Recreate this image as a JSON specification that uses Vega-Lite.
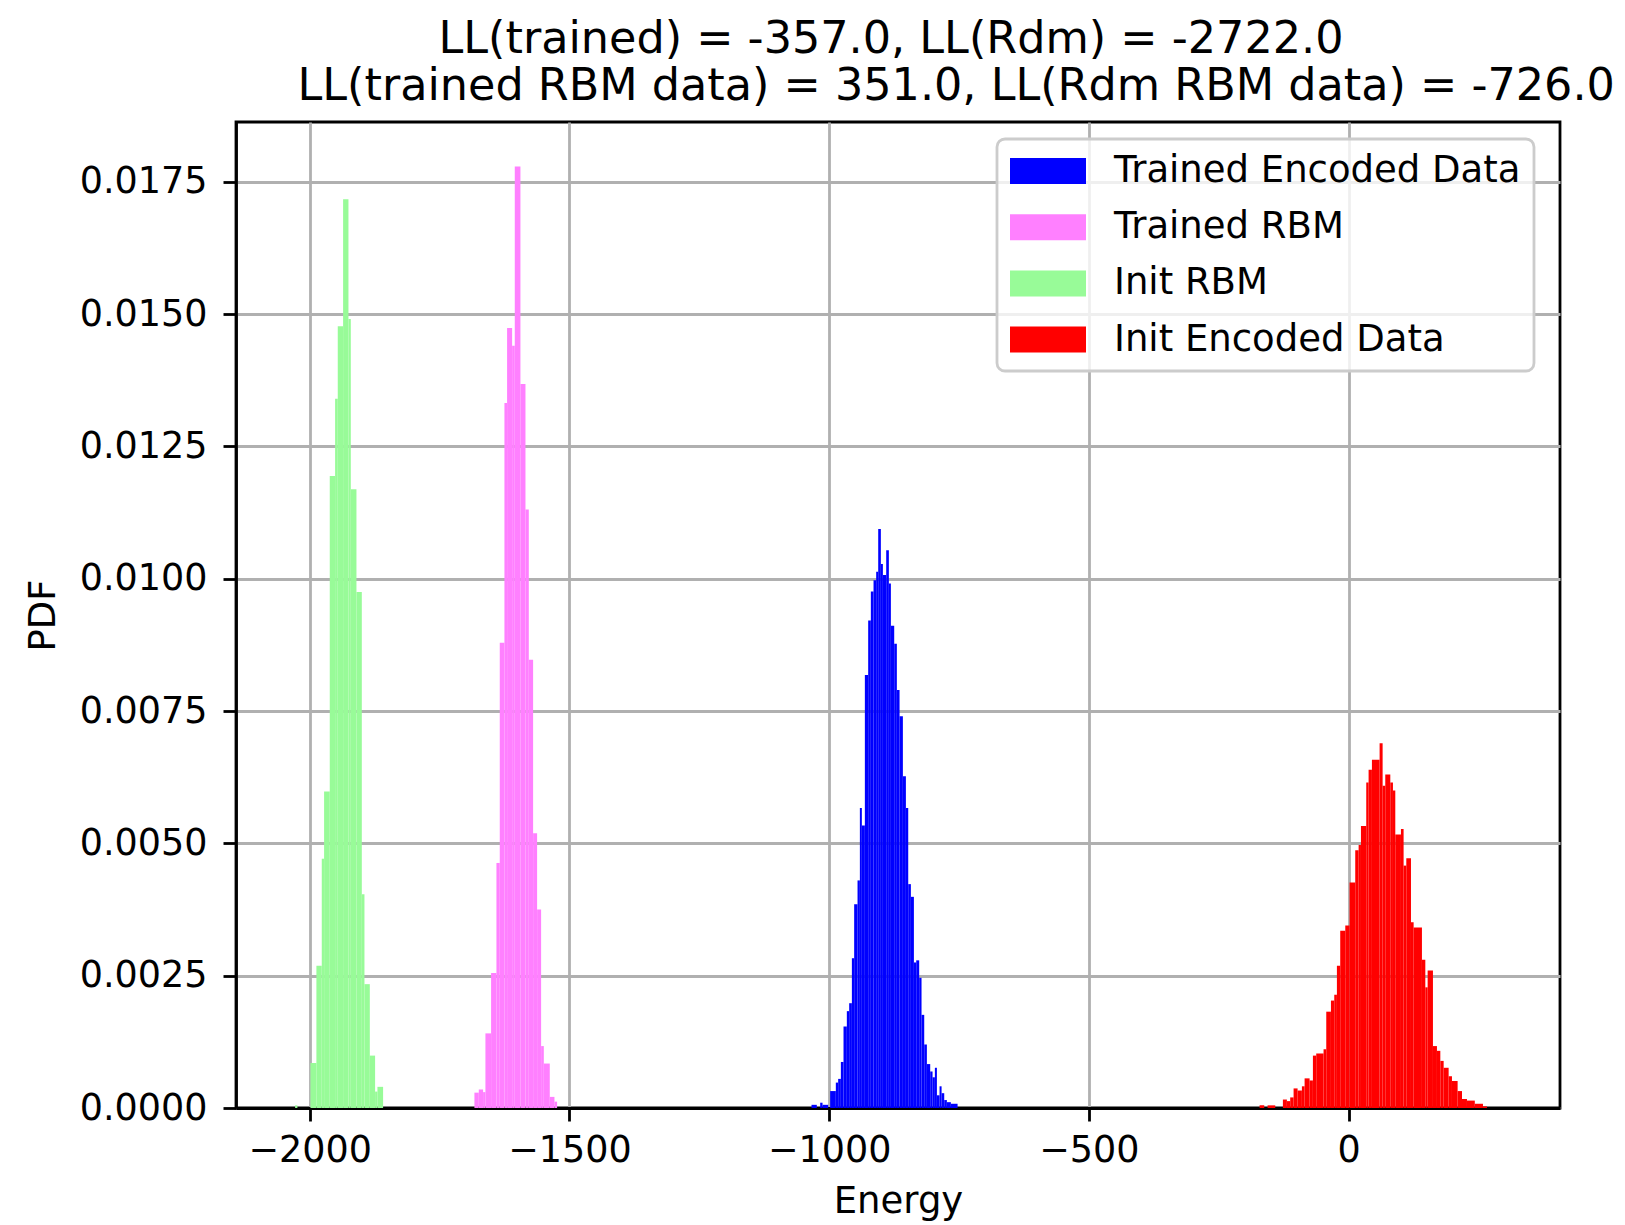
{
  "$schema": "https://vega.github.io/schema/vega-lite/v6.json",
  "autosize": {"type": "none"},
  "padding": {"left": 236, "top": 122, "right": 65, "bottom": 117},
  "width": 1324,
  "height": 986,
  "background": "white",
  "title": {
    "text": ["LL(trained) = -357.0, LL(Rdm) = -2722.0", "\u2800\u2800\u2800\u2800LL(trained RBM data) = 351.0, LL(Rdm RBM data) = -726.0"],
    "font": "DejaVu Sans",
    "fontSize": 44.5,
    "fontWeight": "normal",
    "color": "black",
    "anchor": "middle",
    "frame": "group",
    "offset": 12,
    "dx": -7,
    "lineHeight": 47.6
  },
  "data": {
    "values": [
      {"s": "Init RBM", "a": -2028.2, "b": -2023.8, "d": 0.00005},
      {"s": "Init RBM", "a": -1998.7, "b": -1987.2, "d": 0.00085},
      {"s": "Init RBM", "a": -1987.2, "b": -1976.9, "d": 0.00269},
      {"s": "Init RBM", "a": -1976.9, "b": -1972.4, "d": 0.00471},
      {"s": "Init RBM", "a": -1972.4, "b": -1961.5, "d": 0.00598},
      {"s": "Init RBM", "a": -1961.5, "b": -1951.2, "d": 0.01194},
      {"s": "Init RBM", "a": -1951.2, "b": -1946.1, "d": 0.0134},
      {"s": "Init RBM", "a": -1946.1, "b": -1935.8, "d": 0.01477},
      {"s": "Init RBM", "a": -1935.8, "b": -1925.5, "d": 0.01717},
      {"s": "Init RBM", "a": -1925.5, "b": -1921.0, "d": 0.01491},
      {"s": "Init RBM", "a": -1921.0, "b": -1910.1, "d": 0.01169},
      {"s": "Init RBM", "a": -1910.1, "b": -1899.8, "d": 0.00975},
      {"s": "Init RBM", "a": -1899.8, "b": -1894.7, "d": 0.00404},
      {"s": "Init RBM", "a": -1894.7, "b": -1884.4, "d": 0.00234},
      {"s": "Init RBM", "a": -1884.4, "b": -1874.2, "d": 0.00099},
      {"s": "Init RBM", "a": -1874.2, "b": -1869.7, "d": 0.00031},
      {"s": "Init RBM", "a": -1869.7, "b": -1858.8, "d": 0.0004},

      {"s": "Trained RBM", "a": -1683.0, "b": -1674.6, "d": 0.00029},
      {"s": "Trained RBM", "a": -1674.6, "b": -1666.3, "d": 0.00035},
      {"s": "Trained RBM", "a": -1666.3, "b": -1661.8, "d": 0.0003},
      {"s": "Trained RBM", "a": -1661.8, "b": -1650.9, "d": 0.00141},
      {"s": "Trained RBM", "a": -1650.9, "b": -1640.6, "d": 0.00255},
      {"s": "Trained RBM", "a": -1640.6, "b": -1634.2, "d": 0.00463},
      {"s": "Trained RBM", "a": -1634.2, "b": -1625.2, "d": 0.00879},
      {"s": "Trained RBM", "a": -1625.2, "b": -1620.1, "d": 0.01332},
      {"s": "Trained RBM", "a": -1620.1, "b": -1610.4, "d": 0.01474},
      {"s": "Trained RBM", "a": -1610.4, "b": -1605.3, "d": 0.0144},
      {"s": "Trained RBM", "a": -1605.3, "b": -1594.4, "d": 0.01779},
      {"s": "Trained RBM", "a": -1594.4, "b": -1584.7, "d": 0.01368},
      {"s": "Trained RBM", "a": -1584.7, "b": -1578.3, "d": 0.01131},
      {"s": "Trained RBM", "a": -1578.3, "b": -1570.0, "d": 0.00847},
      {"s": "Trained RBM", "a": -1570.0, "b": -1562.3, "d": 0.00519},
      {"s": "Trained RBM", "a": -1562.3, "b": -1554.6, "d": 0.00375},
      {"s": "Trained RBM", "a": -1554.6, "b": -1549.4, "d": 0.00117},
      {"s": "Trained RBM", "a": -1549.4, "b": -1537.9, "d": 0.00084},
      {"s": "Trained RBM", "a": -1537.9, "b": -1528.9, "d": 0.00021},
      {"s": "Trained RBM", "a": -1528.9, "b": -1523.8, "d": 0.00012},

      {"s": "Trained Encoded Data", "a": -1034.0, "b": -1023.8, "d": 0.00006},
      {"s": "Trained Encoded Data", "a": -1017.3, "b": -1012.8, "d": 0.0001},
      {"s": "Trained Encoded Data", "a": -1012.8, "b": -1001.9, "d": 0.00006},
      {"s": "Trained Encoded Data", "a": -998.1, "b": -987.2, "d": 0.00032},
      {"s": "Trained Encoded Data", "a": -987.2, "b": -982.7, "d": 0.00048},
      {"s": "Trained Encoded Data", "a": -982.7, "b": -977.5, "d": 0.00055},
      {"s": "Trained Encoded Data", "a": -977.5, "b": -972.4, "d": 0.00087},
      {"s": "Trained Encoded Data", "a": -972.4, "b": -966.0, "d": 0.00154},
      {"s": "Trained Encoded Data", "a": -966.0, "b": -961.5, "d": 0.00183},
      {"s": "Trained Encoded Data", "a": -961.5, "b": -956.3, "d": 0.00198},
      {"s": "Trained Encoded Data", "a": -956.3, "b": -951.9, "d": 0.00283},
      {"s": "Trained Encoded Data", "a": -951.9, "b": -945.4, "d": 0.00385},
      {"s": "Trained Encoded Data", "a": -945.4, "b": -940.9, "d": 0.0043},
      {"s": "Trained Encoded Data", "a": -940.9, "b": -937.1, "d": 0.00567},
      {"s": "Trained Encoded Data", "a": -937.1, "b": -931.3, "d": 0.00534},
      {"s": "Trained Encoded Data", "a": -931.3, "b": -924.9, "d": 0.00818},
      {"s": "Trained Encoded Data", "a": -924.9, "b": -919.8, "d": 0.00921},
      {"s": "Trained Encoded Data", "a": -919.8, "b": -914.6, "d": 0.00976},
      {"s": "Trained Encoded Data", "a": -914.6, "b": -909.5, "d": 0.00997},
      {"s": "Trained Encoded Data", "a": -909.5, "b": -905.6, "d": 0.01013},
      {"s": "Trained Encoded Data", "a": -905.6, "b": -900.5, "d": 0.01094},
      {"s": "Trained Encoded Data", "a": -900.5, "b": -896.6, "d": 0.01028},
      {"s": "Trained Encoded Data", "a": -896.6, "b": -890.2, "d": 0.01007},
      {"s": "Trained Encoded Data", "a": -890.2, "b": -885.1, "d": 0.01054},
      {"s": "Trained Encoded Data", "a": -885.1, "b": -881.2, "d": 0.00991},
      {"s": "Trained Encoded Data", "a": -881.2, "b": -874.8, "d": 0.00911},
      {"s": "Trained Encoded Data", "a": -874.8, "b": -869.7, "d": 0.00877},
      {"s": "Trained Encoded Data", "a": -869.7, "b": -864.5, "d": 0.0079},
      {"s": "Trained Encoded Data", "a": -864.5, "b": -858.1, "d": 0.0074},
      {"s": "Trained Encoded Data", "a": -858.1, "b": -852.3, "d": 0.00627},
      {"s": "Trained Encoded Data", "a": -852.3, "b": -847.8, "d": 0.00567},
      {"s": "Trained Encoded Data", "a": -847.8, "b": -842.7, "d": 0.00423},
      {"s": "Trained Encoded Data", "a": -842.7, "b": -836.9, "d": 0.00399},
      {"s": "Trained Encoded Data", "a": -836.9, "b": -832.4, "d": 0.00275},
      {"s": "Trained Encoded Data", "a": -832.4, "b": -826.7, "d": 0.00279},
      {"s": "Trained Encoded Data", "a": -826.7, "b": -822.2, "d": 0.00246},
      {"s": "Trained Encoded Data", "a": -822.2, "b": -817.0, "d": 0.00176},
      {"s": "Trained Encoded Data", "a": -817.0, "b": -811.9, "d": 0.0012},
      {"s": "Trained Encoded Data", "a": -811.9, "b": -805.5, "d": 0.00083},
      {"s": "Trained Encoded Data", "a": -805.5, "b": -801.0, "d": 0.00069},
      {"s": "Trained Encoded Data", "a": -801.0, "b": -796.5, "d": 0.00058},
      {"s": "Trained Encoded Data", "a": -796.5, "b": -792.6, "d": 0.00076},
      {"s": "Trained Encoded Data", "a": -792.6, "b": -787.5, "d": 0.00024},
      {"s": "Trained Encoded Data", "a": -787.5, "b": -783.6, "d": 0.00041},
      {"s": "Trained Encoded Data", "a": -783.6, "b": -778.5, "d": 0.00028},
      {"s": "Trained Encoded Data", "a": -778.5, "b": -773.4, "d": 0.00015},
      {"s": "Trained Encoded Data", "a": -773.4, "b": -765.7, "d": 0.00011},
      {"s": "Trained Encoded Data", "a": -765.7, "b": -752.8, "d": 0.00008},

      {"s": "Init Encoded Data", "a": -171.4, "b": -162.4, "d": 0.00005},
      {"s": "Init Encoded Data", "a": -156.0, "b": -141.2, "d": 0.00005},
      {"s": "Init Encoded Data", "a": -126.5, "b": -118.8, "d": 0.00016},
      {"s": "Init Encoded Data", "a": -118.8, "b": -112.4, "d": 0.00013},
      {"s": "Init Encoded Data", "a": -112.4, "b": -105.9, "d": 0.0002},
      {"s": "Init Encoded Data", "a": -105.9, "b": -98.2, "d": 0.00037},
      {"s": "Init Encoded Data", "a": -98.2, "b": -89.9, "d": 0.00033},
      {"s": "Init Encoded Data", "a": -89.9, "b": -84.7, "d": 0.00041},
      {"s": "Init Encoded Data", "a": -84.7, "b": -75.1, "d": 0.00056},
      {"s": "Init Encoded Data", "a": -75.1, "b": -68.7, "d": 0.00052},
      {"s": "Init Encoded Data", "a": -68.7, "b": -62.3, "d": 0.00099},
      {"s": "Init Encoded Data", "a": -62.3, "b": -48.2, "d": 0.00103},
      {"s": "Init Encoded Data", "a": -48.2, "b": -43.0, "d": 0.00111},
      {"s": "Init Encoded Data", "a": -43.0, "b": -34.0, "d": 0.00182},
      {"s": "Init Encoded Data", "a": -34.0, "b": -27.6, "d": 0.00203},
      {"s": "Init Encoded Data", "a": -27.6, "b": -22.5, "d": 0.00214},
      {"s": "Init Encoded Data", "a": -22.5, "b": -16.1, "d": 0.00269},
      {"s": "Init Encoded Data", "a": -16.1, "b": -6.4, "d": 0.00335},
      {"s": "Init Encoded Data", "a": -6.4, "b": 1.9, "d": 0.00345},
      {"s": "Init Encoded Data", "a": 1.9, "b": 12.8, "d": 0.00426},
      {"s": "Init Encoded Data", "a": 12.8, "b": 19.3, "d": 0.00487},
      {"s": "Init Encoded Data", "a": 19.3, "b": 23.8, "d": 0.00497},
      {"s": "Init Encoded Data", "a": 23.8, "b": 34.0, "d": 0.00533},
      {"s": "Init Encoded Data", "a": 34.0, "b": 38.5, "d": 0.00615},
      {"s": "Init Encoded Data", "a": 38.5, "b": 44.9, "d": 0.00639},
      {"s": "Init Encoded Data", "a": 44.9, "b": 59.7, "d": 0.00658},
      {"s": "Init Encoded Data", "a": 59.7, "b": 65.5, "d": 0.00689},
      {"s": "Init Encoded Data", "a": 65.5, "b": 70.6, "d": 0.00609},
      {"s": "Init Encoded Data", "a": 70.6, "b": 80.3, "d": 0.0063},
      {"s": "Init Encoded Data", "a": 80.3, "b": 85.4, "d": 0.00615},
      {"s": "Init Encoded Data", "a": 85.4, "b": 89.9, "d": 0.006},
      {"s": "Init Encoded Data", "a": 89.9, "b": 100.8, "d": 0.00517},
      {"s": "Init Encoded Data", "a": 100.8, "b": 105.9, "d": 0.00527},
      {"s": "Init Encoded Data", "a": 105.9, "b": 111.1, "d": 0.00458},
      {"s": "Init Encoded Data", "a": 111.1, "b": 120.1, "d": 0.00472},
      {"s": "Init Encoded Data", "a": 120.1, "b": 125.2, "d": 0.00351},
      {"s": "Init Encoded Data", "a": 125.2, "b": 141.2, "d": 0.00341},
      {"s": "Init Encoded Data", "a": 141.2, "b": 147.7, "d": 0.0028},
      {"s": "Init Encoded Data", "a": 147.7, "b": 152.2, "d": 0.00228},
      {"s": "Init Encoded Data", "a": 152.2, "b": 162.4, "d": 0.0026},
      {"s": "Init Encoded Data", "a": 162.4, "b": 170.1, "d": 0.00117},
      {"s": "Init Encoded Data", "a": 170.1, "b": 176.6, "d": 0.00108},
      {"s": "Init Encoded Data", "a": 176.6, "b": 183.0, "d": 0.00089},
      {"s": "Init Encoded Data", "a": 183.0, "b": 192.6, "d": 0.00076},
      {"s": "Init Encoded Data", "a": 192.6, "b": 199.0, "d": 0.0006},
      {"s": "Init Encoded Data", "a": 199.0, "b": 209.9, "d": 0.00051},
      {"s": "Init Encoded Data", "a": 209.9, "b": 218.3, "d": 0.00032},
      {"s": "Init Encoded Data", "a": 218.3, "b": 227.9, "d": 0.00017},
      {"s": "Init Encoded Data", "a": 227.9, "b": 243.0, "d": 0.00014},
      {"s": "Init Encoded Data", "a": 243.0, "b": 258.7, "d": 0.00008},
      {"s": "Init Encoded Data", "a": 258.7, "b": 266.4, "d": 0.00003}
    ]
  },
  "mark": {"type": "rect", "opacity": 1, "strokeWidth": 0},
  "encoding": {
    "x": {
      "field": "a", "type": "quantitative",
      "scale": {"domain": [-2142, 407], "nice": false, "zero": false},
      "axis": {
        "title": "Energy",
        "values": [-2000, -1500, -1000, -500, 0],
        "format": "d",
        "labelPadding": 11,
        "titlePadding": 15
      }
    },
    "x2": {"field": "b"},
    "y": {
      "field": "d", "type": "quantitative",
      "scale": {"domain": [0, 0.01863], "nice": false},
      "axis": {
        "title": "PDF",
        "values": [0, 0.0025, 0.005, 0.0075, 0.01, 0.0125, 0.015, 0.0175],
        "format": ".4f",
        "labelPadding": 16,
        "titlePadding": 17
      }
    },
    "y2": {"datum": 0},
    "color": {
      "field": "s", "type": "nominal",
      "scale": {
        "domain": ["Trained Encoded Data", "Trained RBM", "Init RBM", "Init Encoded Data"],
        "range": ["#0000ff", "#ff80ff", "#98fb98", "#ff0000"]
      },
      "legend": {
        "title": null,
        "orient": "none",
        "legendX": 761,
        "legendY": 17
      }
    }
  },
  "config": {
    "font": "DejaVu Sans",
    "view": {"stroke": "black", "strokeWidth": 2.8},
    "axis": {
      "zindex": 1,
      "grid": true,
      "gridColor": "#b0b0b0",
      "gridWidth": 2.8,
      "gridOpacity": 1,
      "domainColor": "black",
      "domainWidth": 2.8,
      "tickColor": "black",
      "tickWidth": 2.8,
      "tickSize": 13,
      "labelFont": "DejaVu Sans",
      "labelFontSize": 36.5,
      "labelColor": "black",
      "labelFlush": false,
      "labelOverlap": false,
      "titleFont": "DejaVu Sans",
      "titleFontSize": 37,
      "titleFontWeight": "normal",
      "titleColor": "black"
    },
    "legend": {
      "zindex": 2,
      "symbolType": "M-2,-0.684L2,-0.684L2,0.684L-2,0.684Z",
      "symbolSize": 1444,
      "symbolStrokeWidth": 0,
      "symbolOpacity": 1,
      "symbolOffset": 19,
      "labelFont": "DejaVu Sans",
      "labelFontSize": 37,
      "labelColor": "black",
      "labelLimit": 1000,
      "labelOffset": 47,
      "padding": 13,
      "rowPadding": 19.2,
      "strokeColor": "#cccccc",
      "strokeWidth": 2.8,
      "fillColor": "rgba(255,255,255,0.8)",
      "cornerRadius": 8
    }
  }
}
